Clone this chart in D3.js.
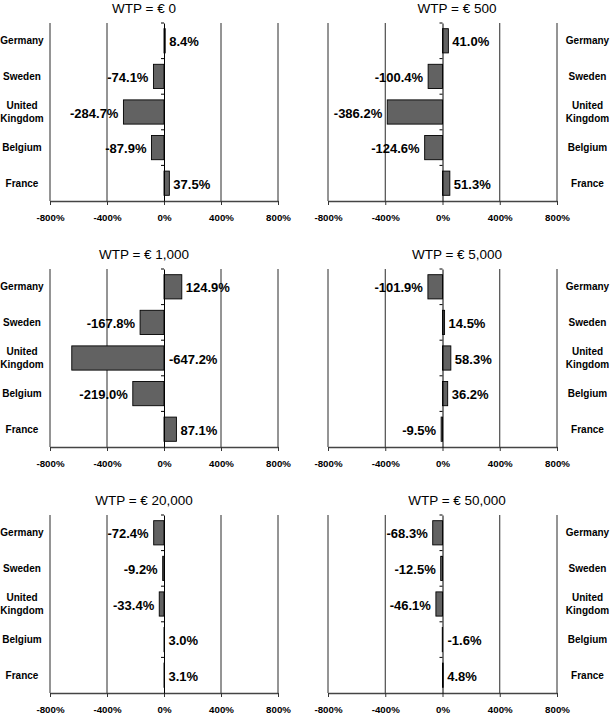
<!DOCTYPE html>
<html>
<head>
<meta charset="utf-8">
<script src="https://cdn.jsdelivr.net/npm/d3@7"></script>
<style>
  html, body { margin: 0; padding: 0; background: #fff; }
  svg { display: block; }
  text { font-family: "Liberation Sans", Arial, Helvetica, sans-serif; }
</style>
</head>
<body>
<svg id="chart" width="610" height="716"></svg>
<script>
// ---- data ----
const countries = ["Germany", "Sweden", "United Kingdom", "Belgium", "France"];
const panelTitles = ["WTP = € 0", "WTP = € 500", "WTP = € 1,000", "WTP = € 5,000", "WTP = € 20,000", "WTP = € 50,000"];
const valuesWTP0 = [8.4, -74.1, -284.7, -87.9, 37.5];
const valuesWTP500 = [41.0, -100.4, -386.2, -124.6, 51.3];
const valuesWTP1000 = [124.9, -167.8, -647.2, -219.0, 87.1];
const valuesWTP5000 = [-101.9, 14.5, 58.3, 36.2, -9.5];
const valuesWTP20000 = [-72.4, -9.2, -33.4, 3.0, 3.1];
const valuesWTP50000 = [-68.3, -12.5, -46.1, -1.6, 4.8];
const tickValues = [-800, -400, 0, 400, 800];
// labels that the original chart places on the right side of the zero axis although negative
const labelsRightOfAxis = [["WTP = € 1,000", "United Kingdom"], ["WTP = € 50,000", "Belgium"]];

const allValues = [valuesWTP0, valuesWTP500, valuesWTP1000, valuesWTP5000, valuesWTP20000, valuesWTP50000];

// ---- layout ----
const svg = d3.select("#chart");
const cols = [
  { x0: 50, x1: 278, titleX: 144, catX: 22 },
  { x0: 328, x1: 557, titleX: 457, catX: 587.5 }
];
const rowTop = 23, rowStep = 246, plotH = 178;

panelTitles.forEach((title, i) => {
  const col = cols[i % 2];
  const row = Math.floor(i / 2);
  const top = rowTop + row * rowStep;
  const bottom = top + plotH;
  const vals = allValues[i];

  const x = d3.scaleLinear().domain([-800, 800]).range([col.x0, col.x1]);
  const y = d3.scaleBand().domain(countries).range([top, bottom]).paddingInner(0.32).paddingOuter(0.16);

  const g = svg.append("g");

  // title
  g.append("text")
    .attr("x", col.titleX).attr("y", top - 10)
    .attr("text-anchor", "middle")
    .attr("font-size", "13.5px")
    .attr("fill", "#000")
    .text(title);

  // vertical gridlines
  g.selectAll("line.grid").data(tickValues.filter(t => t !== 0)).enter()
    .append("line")
    .attr("x1", d => x(d)).attr("x2", d => x(d))
    .attr("y1", top).attr("y2", bottom)
    .attr("stroke", "#2a2a2a").attr("stroke-width", 1);

  // bottom axis
  const xAxis = d3.axisBottom(x).tickValues(tickValues).tickSize(4).tickSizeOuter(0)
    .tickFormat(d => d + "%");
  const ax = g.append("g").attr("transform", `translate(0,${bottom})`).call(xAxis);
  ax.select(".domain").attr("stroke", "#444").attr("stroke-width", 1.3);
  ax.selectAll(".tick line").attr("stroke", "#333");
  ax.selectAll(".tick text")
    .attr("font-family", "'Liberation Sans', Arial, sans-serif")
    .attr("font-size", "9.7px").attr("font-weight", "bold").attr("fill", "#000")
    .attr("dy", "0").attr("y", 20);

  // bars
  g.selectAll("rect.bar").data(countries).enter()
    .append("rect")
    .attr("x", (c, k) => x(Math.min(0, vals[k])))
    .attr("width", (c, k) => Math.abs(x(vals[k]) - x(0)))
    .attr("y", c => y(c))
    .attr("height", y.bandwidth())
    .attr("fill", "#626262")
    .attr("stroke", "#000").attr("stroke-width", 0.9);

  // zero axis with category ticks
  const yAxis = d3.axisLeft(y).tickSize(0).tickFormat("");
  const zg = g.append("g").attr("transform", `translate(${x(0)},0)`).call(yAxis);
  zg.select(".domain").attr("stroke", "#000").attr("stroke-width", 1);
  const boundaries = countries.map(c => y(c) - y.step() * y.paddingInner() / 2);
  zg.selectAll("line.cattick").data(boundaries).enter()
    .append("line")
    .attr("x1", -3).attr("x2", 0)
    .attr("y1", d => d).attr("y2", d => d)
    .attr("stroke", "#000").attr("stroke-width", 1);

  // value labels
  g.selectAll("text.val").data(countries).enter()
    .append("text")
    .attr("font-size", "13px").attr("font-weight", "bold").attr("fill", "#000")
    .attr("dominant-baseline", "central")
    .each(function (c, k) {
      const v = vals[k];
      const flip = labelsRightOfAxis.some(p => p[0] === title && p[1] === c);
      const sel = d3.select(this);
      if (v >= 0) {
        sel.attr("x", x(v) + 4).attr("text-anchor", "start");
      } else if (flip) {
        sel.attr("x", x(0) + 5).attr("text-anchor", "start");
      } else {
        sel.attr("x", x(v) - 5).attr("text-anchor", "end");
      }
      sel.attr("y", y(c) + y.bandwidth() / 2 + 1).text(v.toFixed(1) + "%");
    });

  // category labels
  countries.forEach(c => {
    const cy = y(c) + y.bandwidth() / 2;
    const lines = c === "United Kingdom" ? ["United", "Kingdom"] : [c];
    const t = g.append("text")
      .attr("text-anchor", "middle")
      .attr("font-size", "10px").attr("font-weight", "bold").attr("fill", "#000");
    lines.forEach((ln, li) => {
      t.append("tspan")
        .attr("x", col.catX)
        .attr("y", cy + 3.5 + (lines.length === 2 ? (li === 0 ? -6.5 : 6.5) : 0))
        .text(ln);
    });
  });
});
</script>
</body>
</html>
